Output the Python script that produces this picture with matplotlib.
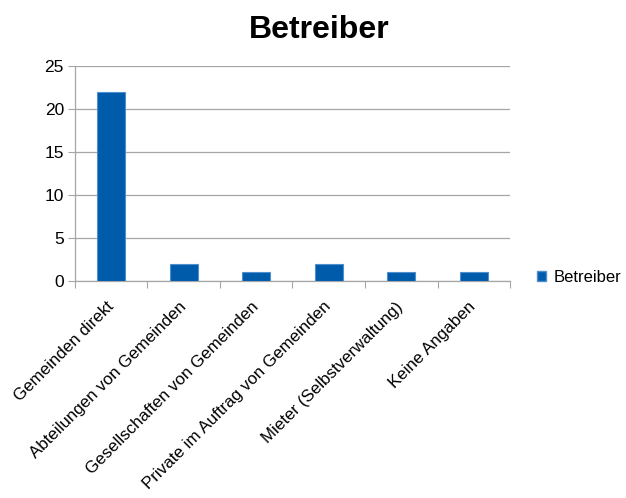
import matplotlib
matplotlib.use("Agg")
import matplotlib.pyplot as plt
from matplotlib.patches import Patch

plt.rcParams['font.family'] = ['Liberation Sans', 'DejaVu Sans']

categories = [
    "Gemeinden direkt",
    "Abteilungen von Gemeinden",
    "Gesellschaften von Gemeinden",
    "Private im Auftrag von Gemeinden",
    "Mieter (Selbstverwaltung)",
    "Keine Angaben",
]
values = [22, 2, 1, 2, 1, 1]
series_name = "Betreiber"
y_ticks = [0, 5, 10, 15, 20, 25]

bar_color = "#005BAB"
edge_color = "#4F8FCB"
grid_color = "#A6A6A6"

fig = plt.figure(figsize=(6.26, 4.98), dpi=100)
ax = fig.add_axes([0.1198, 0.4357, 0.6949, 0.4318])

x = list(range(len(categories)))
ax.bar(x, values, width=0.39, color=bar_color, edgecolor=edge_color,
       linewidth=0.8, zorder=3)

ax.set_xlim(-0.5, len(categories) - 0.5)
ax.set_ylim(0, 25)
ax.set_yticks(y_ticks)
ax.set_yticklabels([str(v) for v in y_ticks], fontsize=12.5)
ax.yaxis.grid(True, color=grid_color, linewidth=0.9, zorder=0)

# category boundaries get the tick marks; labels sit just right of the centres
ax.set_xticks([i - 0.5 for i in range(len(categories) + 1)], minor=False)
ax.set_xticklabels([])
ax.set_xticks([i + 0.07 for i in x], minor=True)
ax.set_xticklabels(categories, minor=True, rotation=45, ha='right',
                   va='top', fontsize=12.2)
ax.tick_params(axis='x', which='major', length=5, color=grid_color)
ax.tick_params(axis='x', which='minor', length=0, pad=13)
ax.tick_params(axis='y', length=5, color=grid_color, pad=3)

for side in ['top', 'right']:
    ax.spines[side].set_visible(False)
for side in ['left', 'bottom']:
    ax.spines[side].set_color(grid_color)
    ax.spines[side].set_linewidth(0.9)

fig.text(0.51, 0.94, "Betreiber", ha='center', va='center',
         fontsize=23, fontweight='bold')

handle = Patch(facecolor=bar_color, edgecolor=edge_color)
fig.legend([handle], [series_name], loc='center left',
           bbox_to_anchor=(537 / 626, 1 - 277 / 498), frameon=False,
           fontsize=12, handlelength=0.55, handleheight=0.55,
           handletextpad=0.45, borderpad=0, borderaxespad=0)

fig.savefig("out.png", dpi=100)
